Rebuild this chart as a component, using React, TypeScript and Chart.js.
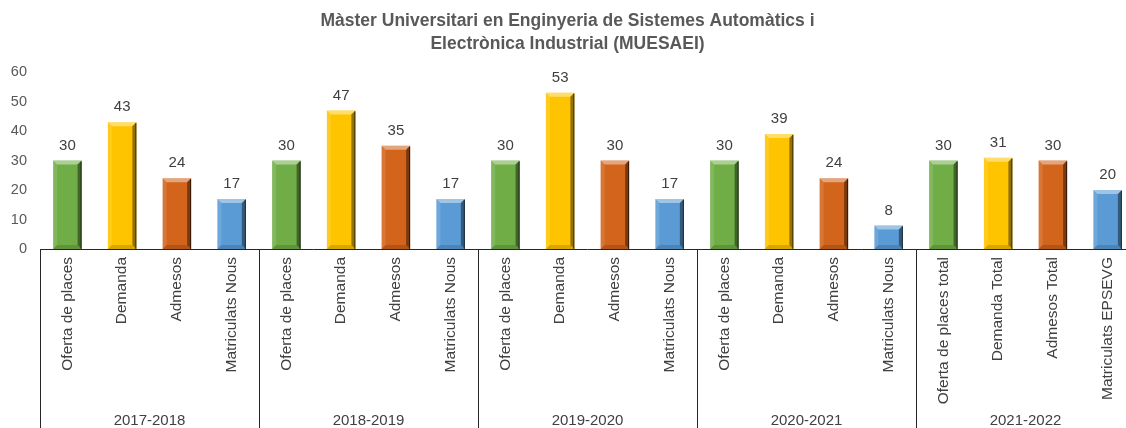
import React, { useEffect, useRef } from "react";
import { Chart, registerables } from "chart.js";

Chart.register(...registerables);

const TITLE = [
  "Màster Universitari en Enginyeria de Sistemes Automàtics i",
  "Electrònica Industrial (MUESAEI)",
];
const GROUPS = ["2017-2018", "2018-2019", "2019-2020", "2020-2021", "2021-2022"];
const CATEGORIES = [
  "Oferta de places", "Demanda", "Admesos", "Matriculats Nous",
  "Oferta de places", "Demanda", "Admesos", "Matriculats Nous",
  "Oferta de places", "Demanda", "Admesos", "Matriculats Nous",
  "Oferta de places", "Demanda", "Admesos", "Matriculats Nous",
  "Oferta de places total", "Demanda Total", "Admesos Total", "Matriculats EPSEVG",
];
const VALUES = [
  30, 43, 24, 17,
  30, 47, 35, 17,
  30, 53, 30, 17,
  30, 39, 24, 8,
  30, 31, 30, 20,
];
const Y_TICKS = [0, 10, 20, 30, 40, 50, 60];
const PALETTE = ["#70AD47", "#FFC400", "#D2641C", "#5B9BD5"];

const FONT = "'Liberation Sans', Arial, sans-serif";
const PER_GROUP = 4;

const bevelPlugin = {
  id: "bevel",
  afterDatasetsDraw(chart: any) {
    const ctx = chart.ctx;
    const meta = chart.getDatasetMeta(0);
    ctx.save();
    meta.data.forEach((el: any) => {
      const { x, y, base, width } = el.getProps(["x", "y", "base", "width"], true);
      const l = x - width / 2;
      const r = x + width / 2;
      const t = Math.min(y, base);
      const b = Math.max(y, base);
      const s = 4;
      const poly = (pts: number[][], fill: string) => {
        ctx.beginPath();
        ctx.moveTo(pts[0][0], pts[0][1]);
        for (let i = 1; i < pts.length; i++) ctx.lineTo(pts[i][0], pts[i][1]);
        ctx.closePath();
        ctx.fillStyle = fill;
        ctx.fill();
      };
      poly([[l, t], [r, t], [r - s, t + s], [l + s, t + s]], "rgba(255,255,255,0.42)");
      poly([[l, t], [l + s, t + s], [l + s, b - s], [l, b]], "rgba(255,255,255,0.12)");
      poly([[r, t], [r - s, t + s], [r - s, b - s], [r, b]], "rgba(0,0,0,0.42)");
      poly([[l, b], [l + s, b - s], [r - s, b - s], [r, b]], "rgba(0,0,0,0.15)");
      ctx.fillStyle = "rgba(0,0,0,0.6)";
      ctx.fillRect(r - 1, t + 1, 1, b - t - 1);
    });
    ctx.restore();
  },
};

const labelsPlugin = {
  id: "valueLabels",
  afterDatasetsDraw(chart: any) {
    const ctx = chart.ctx;
    const meta = chart.getDatasetMeta(0);
    ctx.save();
    ctx.font = `15px ${FONT}`;
    ctx.fillStyle = "#404040";
    ctx.textAlign = "center";
    ctx.textBaseline = "middle";
    meta.data.forEach((el: any, i: number) => {
      const { x, y } = el.getProps(["x", "y"], true);
      ctx.fillText(String(VALUES[i]), x, y - 15);
    });
    ctx.restore();
  },
};

const multiAxisPlugin = {
  id: "multiAxis",
  afterDraw(chart: any) {
    const ctx = chart.ctx;
    const xs = chart.scales.x;
    const area = chart.chartArea;
    const bottom = area.bottom;
    const H = chart.height;
    const catW = xs.getPixelForValue(1) - xs.getPixelForValue(0);
    ctx.save();
    ctx.strokeStyle = "#262626";
    ctx.lineWidth = 1;
    ctx.beginPath();
    ctx.moveTo(area.left, Math.round(bottom) + 0.5);
    ctx.lineTo(area.right, Math.round(bottom) + 0.5);
    ctx.stroke();
    for (let g = 0; g <= GROUPS.length; g++) {
      const px = g < GROUPS.length
        ? xs.getPixelForValue(g * PER_GROUP) - catW / 2
        : xs.getPixelForValue(g * PER_GROUP - 1) + catW / 2;
      const xx = Math.round(px) + 0.5;
      ctx.beginPath();
      ctx.moveTo(xx, Math.round(bottom));
      ctx.lineTo(xx, H);
      ctx.stroke();
    }
    ctx.fillStyle = "#404040";
    ctx.font = `15.5px ${FONT}`;
    CATEGORIES.forEach((lab, i) => {
      const px = xs.getPixelForValue(i);
      ctx.save();
      ctx.translate(px, bottom + 8);
      ctx.rotate(-Math.PI / 2);
      ctx.textAlign = "right";
      ctx.textBaseline = "middle";
      ctx.fillText(lab, 0, 0);
      ctx.restore();
    });
    ctx.font = `15px ${FONT}`;
    ctx.textAlign = "center";
    ctx.textBaseline = "middle";
    GROUPS.forEach((g, gi) => {
      const a = xs.getPixelForValue(gi * PER_GROUP);
      const b = xs.getPixelForValue(gi * PER_GROUP + PER_GROUP - 1);
      ctx.fillText(g, (a + b) / 2, 421);
    });
    ctx.restore();
  },
};

export default function App() {
  const ref = useRef<HTMLCanvasElement | null>(null);
  useEffect(() => {
    if (!ref.current) return;
    const chart = new Chart(ref.current, {
      type: "bar",
      data: {
        labels: CATEGORIES,
        datasets: [
          {
            data: VALUES,
            backgroundColor: VALUES.map((_, i) => PALETTE[i % PER_GROUP]),
            borderWidth: 0,
            barPercentage: 0.52,
            categoryPercentage: 1,
          },
        ],
      },
      options: {
        responsive: false,
        animation: false,
        layout: { padding: { left: 0, right: 5, top: 0, bottom: 0 } },
        plugins: {
          legend: { display: false },
          tooltip: { enabled: false },
          title: {
            display: true,
            text: TITLE,
            color: "#595959",
            font: { family: FONT, size: 17.5, weight: "bold", lineHeight: 1.29 },
            padding: { top: 10, bottom: 17 },
          },
        },
        scales: {
          x: {
            grid: { display: false, drawTicks: false },
            border: { display: false },
            ticks: { display: false },
            afterFit: (s: any) => { s.height = 179; },
          },
          y: {
            min: 0,
            max: 60,
            grid: { display: false, drawTicks: false, tickLength: 0 },
            border: { display: false },
            afterBuildTicks: (s: any) => { s.ticks = Y_TICKS.map((v) => ({ value: v })); },
            ticks: {
              color: "#595959",
              font: { family: FONT, size: 14.5 },
              padding: 13,
            },
            afterFit: (s: any) => { s.width = 40; },
          },
        },
      },
      plugins: [bevelPlugin, labelsPlugin, multiAxisPlugin],
    });
    return () => chart.destroy();
  }, []);
  return (
    <div style={{ position: "fixed", left: 0, top: 0, width: 1126, height: 428, overflow: "hidden", background: "#fff" }}>
      <canvas ref={ref} width={1140} height={428} style={{ width: 1140, height: 428, display: "block" }} />
    </div>
  );
}
